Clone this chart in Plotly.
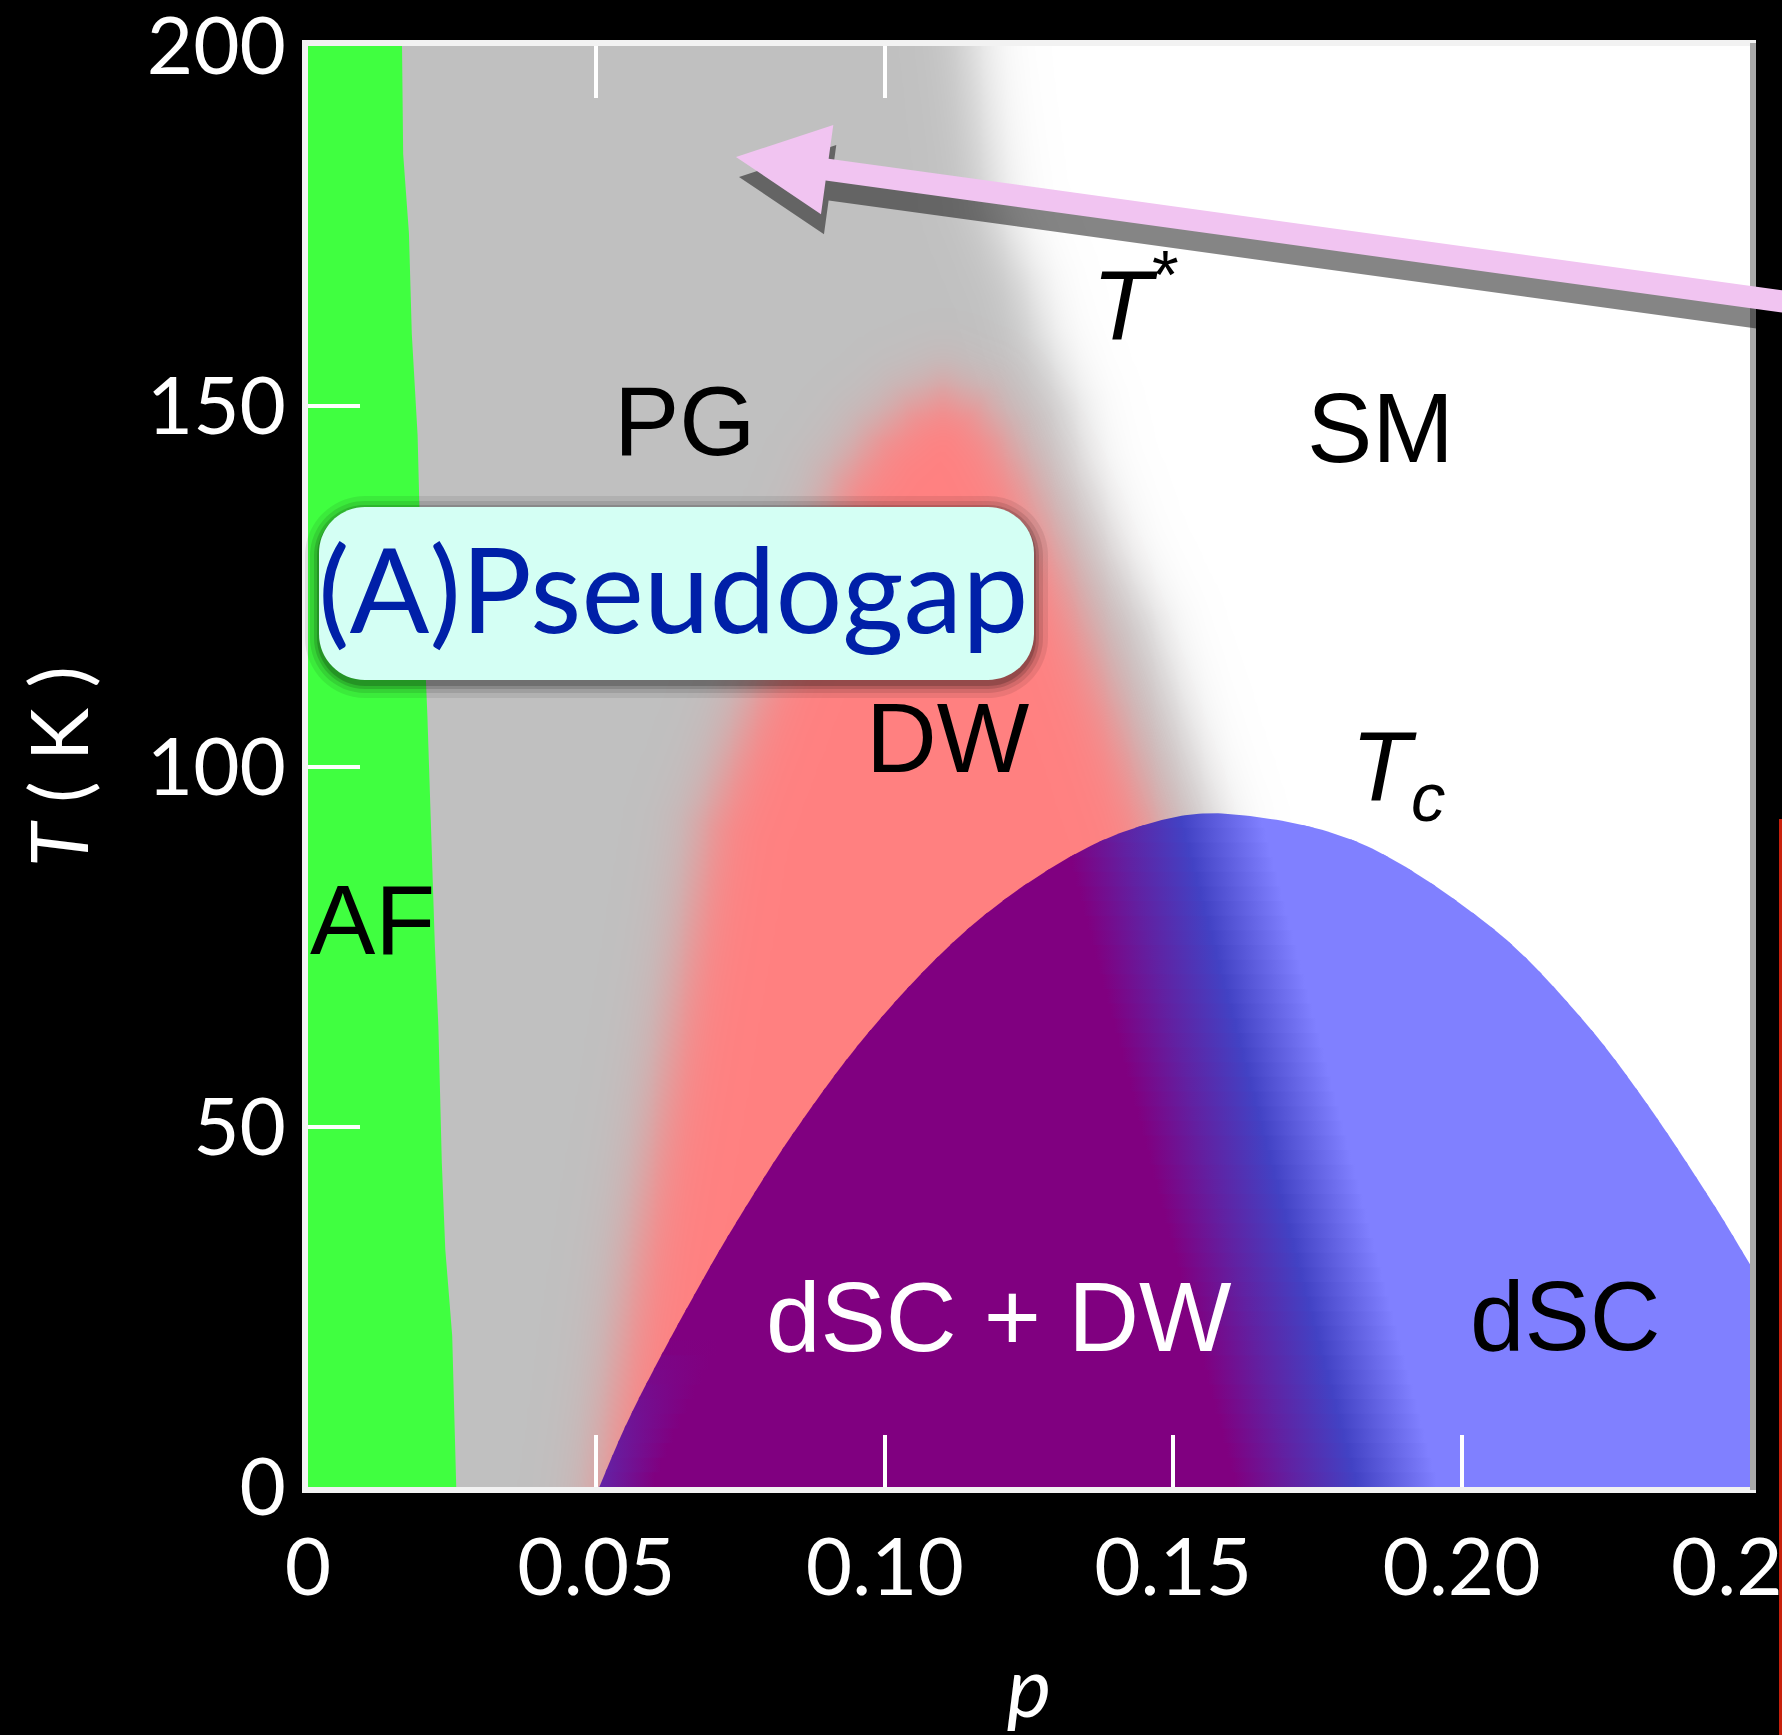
import numpy as np
import plotly.graph_objects as go

# ---------------- data ----------------
X_TICK_VALS = [0.0, 0.05, 0.10, 0.15, 0.20, 0.25]
X_TICK_TEXT = ["0", "0.05", "0.10", "0.15", "0.20", "0.25"]
Y_TICK_VALS = [0, 50, 100, 150, 200]
Y_TICK_TEXT = ["0", "50", "100", "150", "200"]

# AF (antiferromagnet) right-hand boundary
AF_EDGE_T = [200, 185, 174, 160, 146, 130, 107, 91, 75, 64, 45, 33, 21, 0]
AF_EDGE_P = [0.0163, 0.0165, 0.0175, 0.0180, 0.0190, 0.0195, 0.0207, 0.0213,
             0.0220, 0.0226, 0.0232, 0.0238, 0.0250, 0.0257]

# T* crossover (PG -> SM), middle of the blurred edge
TSTAR_T = [200, 190, 178, 167, 160, 150, 142, 130, 120, 110, 100, 93]
TSTAR_P = [0.1155, 0.117, 0.119, 0.1245, 0.127, 0.132, 0.1345, 0.140,
           0.146, 0.150, 0.154, 0.157]

# density-wave (DW) region, middle of the blurred edge (left side up to apex, then right side)
DW_T = [0, 9, 34, 60, 92, 107, 127, 140, 146, 150, 152, 150, 146, 140, 127, 107, 93]
DW_P = [0.051, 0.0525, 0.057, 0.0624, 0.069, 0.076, 0.0855, 0.0924, 0.098, 0.104,
        0.110, 0.116, 0.120, 0.124, 0.131, 0.140, 0.146]
DW_APEX_INDEX = 10

# superconducting dome Tc(p)
TC_P = [0.0505, 0.055, 0.0604, 0.067, 0.0737, 0.0843, 0.0976, 0.1136, 0.130, 0.145,
        0.160, 0.1826, 0.205, 0.2202, 0.2316, 0.243, 0.25]
TC_T = [0, 8.4, 17, 26.7, 36, 49.3, 63.5, 76.9, 86.5, 91.9,
        93.4, 89.3, 77.8, 65.6, 53.8, 40.1, 30.9]

# dSC+DW -> dSC crossover inside the dome: p of (purple end, mid, dark blue, light blue) at T=0
DSC_SPLIT_P0 = [0.161, 0.171, 0.182, 0.196]
DSC_SPLIT_SLOPE = 0.00033   # shift of the crossover towards lower p per kelvin

LABELS = ["PG", "SM", "<i>T</i><sup>*</sup>", "DW", "<i>T</i><sub><i>c</i></sub>",
          "AF", "dSC + DW", "dSC"]
CALLOUT_TEXT = "(A)Pseudogap"

# ---------------- geometry / style ----------------
FIG_W, FIG_H = 1782, 1735
M_L, M_R, M_T, M_B = 308, 32, 46, 248
PLOT_W = FIG_W - M_L - M_R
PLOT_H = FIG_H - M_T - M_B
P_MAX, T_MAX = 0.25, 200.0
SX = PLOT_W / P_MAX
SY = PLOT_H / T_MAX

GREEN = "#40FF40"
PURPLE = (128, 0, 128)
MIDC = (97, 33, 162)
DARK = (66, 66, 196)
LIGHT = (128, 128, 255)
TINT = (88, 48, 180)
BLUR_PX = 28.0


def rgb(c):
    return "rgb(%d,%d,%d)" % tuple(int(round(v)) for v in c)


def soft_region(poly_p, poly_t, sigma_px, n_p=300, n_t=300):
    pc = (np.arange(n_p) + 0.5) / n_p * P_MAX
    tc = (np.arange(n_t) + 0.5) / n_t * T_MAX
    PP, TT = np.meshgrid(pc, tc)
    gx, gy = PP * SX, TT * SY
    vx = np.asarray(poly_p, float) * SX
    vy = np.asarray(poly_t, float) * SY
    n = len(vx)
    dmin = np.full(gx.shape, np.inf)
    inside = np.zeros(gx.shape, bool)
    for i in range(n):
        ax, ay = vx[i], vy[i]
        bx, by = vx[(i + 1) % n], vy[(i + 1) % n]
        dx, dy = bx - ax, by - ay
        L2 = dx * dx + dy * dy
        if L2 > 0:
            t = np.clip(((gx - ax) * dx + (gy - ay) * dy) / L2, 0, 1)
        else:
            t = 0.0
        d = np.hypot(gx - (ax + t * dx), gy - (ay + t * dy))
        dmin = np.minimum(dmin, d)
        cond = (ay > gy) != (by > gy)
        ddy = dy if dy != 0 else 1e-12
        xint = ax + (gy - ay) * dx / ddy
        inside ^= cond & (gx < xint)
    sd = np.where(inside, -dmin, dmin)
    alpha = 1.0 / (1.0 + np.exp(np.clip(1.702 * sd / sigma_px, -50, 50)))
    return pc, tc, np.round(alpha, 3)


def catmull_rom(xs, ys, n_seg=24):
    pts = np.column_stack([xs, ys]).astype(float)
    ext = np.vstack([2 * pts[0] - pts[1], pts, 2 * pts[-1] - pts[-2]])
    out = []
    t = np.linspace(0, 1, n_seg, endpoint=False)[:, None]
    for i in range(1, len(ext) - 2):
        p0, p1, p2, p3 = ext[i - 1], ext[i], ext[i + 1], ext[i + 2]
        seg = 0.5 * ((2 * p1) + (-p0 + p2) * t + (2 * p0 - 5 * p1 + 4 * p2 - p3) * t ** 2
                     + (-p0 + 3 * p1 - 3 * p2 + p3) * t ** 3)
        out.append(seg)
    out.append(pts[-1:])
    return np.vstack(out)


fig = go.Figure()

# ---- PG (grey) blurred region ----
pg_p = [-0.05, -0.05, TSTAR_P[0]] + TSTAR_P + [TSTAR_P[-1] + 0.018]
pg_t = [-40, 240, 240] + TSTAR_T + [-40]
pc, tc, a_pg = soft_region(pg_p, pg_t, BLUR_PX)
fig.add_trace(go.Heatmap(
    x=pc, y=tc, z=a_pg, zmin=0, zmax=1, zsmooth="best", showscale=False,
    colorscale=[[0, "rgba(192,192,192,0)"], [1, "rgba(192,192,192,1)"]],
    hoverinfo="skip"))

# ---- DW (red) blurred region ----
dw_p = [DW_P[0] - 0.003] + DW_P + [0.17]
dw_t = [-40] + DW_T + [-40]
pc, tc, a_dw = soft_region(dw_p, dw_t, BLUR_PX)
fig.add_trace(go.Heatmap(
    x=pc, y=tc, z=a_dw, zmin=0, zmax=1, zsmooth="best", showscale=False,
    colorscale=[[0, "rgba(255,128,128,0)"], [1, "rgba(255,128,128,1)"]],
    hoverinfo="skip"))

# ---- AF (green) ----
fig.add_trace(go.Scatter(
    x=[-0.01, AF_EDGE_P[0]] + AF_EDGE_P + [AF_EDGE_P[-1], -0.01],
    y=[205, 205] + AF_EDGE_T + [-5, -5],
    mode="lines", fill="toself", fillcolor=GREEN, line=dict(width=0, color=GREEN),
    hoverinfo="skip", showlegend=False))

# ---- superconducting dome (sliced so the crossover can tilt) ----
dense = catmull_rom(np.array(TC_P) * SX, np.array(TC_T) * SY)
dP, dT = dense[:, 0] / SX, dense[:, 1] / SY
k = int(np.argmax(dT))
lP, lT = dP[:k + 1], np.maximum.accumulate(dT[:k + 1])
rP, rT = dP[k:][::-1], np.maximum.accumulate(dT[k:][::-1])
t_top = dT[k]
n_sl = 46
edges = np.linspace(0, t_top, n_sl + 1)
dw_left_t = np.array(DW_T[:DW_APEX_INDEX + 1])
dw_left_p = np.array(DW_P[:DW_APEX_INDEX + 1])
G0, G1 = 0.0, 0.26
for i in range(n_sl):
    ta = edges[i] if i > 0 else -5.0
    tb = min(edges[i + 1] + 0.4, t_top) if i < n_sl - 1 else t_top
    lm = (lT > ta) & (lT < tb)
    l_t = np.concatenate([[ta], lT[lm], [tb]])
    l_p = np.interp(l_t, lT, lP)
    rm = (rT > ta) & (rT < tb)
    r_t = np.concatenate([[ta], rT[rm], [tb]])
    r_p = np.interp(r_t, rT, rP, left=0.27)
    poly_p = np.concatenate([l_p, r_p[::-1]])
    poly_t = np.concatenate([l_t, r_t[::-1]])

    tm = 0.5 * (max(ta, 0.0) + tb)
    shift = DSC_SPLIT_SLOPE * tm
    stops = []
    p_dome_left = np.interp(tm, lT, lP)
    p_dw_left = np.interp(tm, dw_left_t, dw_left_p)
    s = float(np.clip(1 - (p_dome_left - p_dw_left) / 0.008, 0, 1))
    if s > 0.02:
        tint = tuple(PURPLE[j] * (1 - s) + TINT[j] * s for j in range(3))
        stops.append((p_dome_left - 0.004, tint))
        stops.append((p_dome_left + 0.009, PURPLE))
    else:
        stops.append((G0, PURPLE))
    cols = [PURPLE, MIDC, DARK, LIGHT]
    for pv, cc in zip(DSC_SPLIT_P0, cols):
        stops.append((pv - shift, cc))
    stops.append((G1, LIGHT))
    cs = []
    last = -1
    for pv, cc in stops:
        pos = (pv - G0) / (G1 - G0)
        pos = min(max(pos, 0.0), 1.0)
        if pos <= last:
            pos = last + 1e-4
        cs.append([pos, rgb(cc)])
        last = pos
    if cs[0][0] > 0:
        cs.insert(0, [0.0, cs[0][1]])
    cs[-1][0] = 1.0
    fig.add_trace(go.Scatter(
        x=poly_p, y=poly_t, mode="lines", fill="toself",
        fillgradient=dict(type="horizontal", colorscale=cs, start=G0, stop=G1),
        line=dict(width=0, color=rgb(LIGHT)), hoverinfo="skip", showlegend=False))

# ---------------- shapes (frame, arrow, callout box) ----------------
def to_paper(x, y):
    return (x - M_L) / PLOT_W, (FIG_H - M_B - y) / PLOT_H


def fmt(x, y):
    xp, yp = to_paper(x, y)
    return "%.5f,%.5f" % (xp, yp)


def poly_path(points):
    return "M" + " L".join(fmt(x, y) for x, y in points) + " Z"


def rounded_rect(x0, y0, x1, y1, r):
    kk = 0.5523 * r
    return ("M%s L%s C%s %s %s L%s C%s %s %s L%s C%s %s %s L%s C%s %s %s Z" % (
        fmt(x0 + r, y0), fmt(x1 - r, y0),
        fmt(x1 - r + kk, y0), fmt(x1, y0 + r - kk), fmt(x1, y0 + r),
        fmt(x1, y1 - r),
        fmt(x1, y1 - r + kk), fmt(x1 - r + kk, y1), fmt(x1 - r, y1),
        fmt(x0 + r, y1),
        fmt(x0 + r - kk, y1), fmt(x0, y1 - r + kk), fmt(x0, y1 - r),
        fmt(x0, y0 + r),
        fmt(x0, y0 + r - kk), fmt(x0 + r - kk, y0), fmt(x0 + r, y0)))


shapes = []
xr, _ = to_paper(M_L + PLOT_W + 3, 0)
shapes.append(dict(type="line", xref="paper", yref="paper", x0=xr, x1=xr, y0=-0.002, y1=1.002,
                   line=dict(color="#A9A9A9", width=6), layer="above"))

# arrow (with drop shadow)
tip = np.array([736.0, 157.0])
u = np.array([956.0, 132.0]); u /= np.linalg.norm(u)
nrm = np.array([-u[1], u[0]])
base = tip + 92 * u
tail = tip + (1800 - tip[0]) / u[0] * u
arrow = [tip, base + 45 * nrm, base + 11 * nrm, tail + 11 * nrm,
         tail - 11 * nrm, base - 11 * nrm, base - 45 * nrm]
shadow = [pt + np.array([3.0, 20.0]) for pt in arrow]
shapes.append(dict(type="path", xref="paper", yref="paper", path=poly_path(shadow),
                   fillcolor="rgba(0,0,0,0.48)", line=dict(width=0), layer="above"))
shapes.append(dict(type="path", xref="paper", yref="paper", path=poly_path(arrow),
                   fillcolor="#F1C4F1", line=dict(width=0), layer="above"))

# callout box with soft shadow
bx0, by0, bx1, by1, br = 319, 507, 1034, 680, 46
for g, a in [(14, 0.08), (9, 0.10), (5, 0.14), (2, 0.18)]:
    shapes.append(dict(type="path", xref="paper", yref="paper",
                       path=rounded_rect(bx0 - g, by0 - g + 3, bx1 + g, by1 + g + 4, br + g),
                       fillcolor="rgba(0,0,0,%.2f)" % a, line=dict(width=0), layer="above"))
shapes.append(dict(type="path", xref="paper", yref="paper",
                   path=rounded_rect(bx0, by0, bx1, by1, br),
                   fillcolor="#D4FFF4", line=dict(width=0), layer="above"))

# thin red line at the right edge of the slide
xl, _ = to_paper(1780.5, 0)
_, yl0 = to_paper(0, 819)
_, yl1 = to_paper(0, 1740)
shapes.append(dict(type="line", xref="paper", yref="paper", x0=xl, x1=xl, y0=yl0, y1=yl1,
                   line=dict(color="#C8200C", width=3), layer="above"))

# ---------------- annotations ----------------
LABEL_FONT = "Liberation Sans, Arial, sans-serif"
label_pos = [(0.0654, 148), (0.186, 147), (0.1434, 165), (0.111, 104),
             (0.189, 99), (0.0111, 78.7), (0.1198, 23.6), (0.218, 23.7)]
label_col = ["black"] * 6 + ["white", "black"]
annotations = []
for txt, (xp, yp), col in zip(LABELS, label_pos, label_col):
    annotations.append(dict(x=xp, y=yp, xref="x", yref="y", text=txt, showarrow=False,
                            xanchor="center", yanchor="middle",
                            font=dict(family=LABEL_FONT, size=98, color=col)))
cx, cy = to_paper(673, 587)
annotations.append(dict(x=cx, y=cy, xref="paper", yref="paper", text=CALLOUT_TEXT,
                        showarrow=False, xanchor="center", yanchor="middle",
                        font=dict(family="Lato, Open Sans, sans-serif", size=118, color="#0020A8")))

TICK_FONT = dict(family="Lato, Open Sans, sans-serif", size=80, color="white")
fig.update_layout(
    width=FIG_W, height=FIG_H,
    margin=dict(l=M_L, r=M_R, t=M_T, b=M_B, autoexpand=False),
    paper_bgcolor="black", plot_bgcolor="white", showlegend=False,
    shapes=shapes, annotations=annotations,
)
fig.update_xaxes(
    range=[0, P_MAX], tickvals=X_TICK_VALS, ticktext=X_TICK_TEXT, tickfont=TICK_FONT,
    ticks="inside", ticklen=52, tickwidth=4, tickcolor="white", ticklabeloverflow="allow",
    ticklabelstandoff=6,
    showline=True, linecolor="#F2F2F2", linewidth=6, mirror="ticks",
    showgrid=False, zeroline=False, automargin=False,
    title=dict(text="<i>p</i>", font=dict(family="Lato, Open Sans, sans-serif", size=84, color="white"),
               standoff=58))
fig.update_yaxes(
    range=[0, T_MAX], tickvals=Y_TICK_VALS, ticktext=Y_TICK_TEXT, tickfont=TICK_FONT,
    ticks="inside", ticklen=52, tickwidth=4, tickcolor="white", ticklabeloverflow="allow",
    showline=True, linecolor="#F2F2F2", linewidth=6, mirror="ticks",
    showgrid=False, zeroline=False, automargin=False,
    title=dict(text="<i>T</i> ( K )", font=dict(family="Lato, Open Sans, sans-serif", size=80, color="white"),
               standoff=34))

fig.write_html("out.html")
